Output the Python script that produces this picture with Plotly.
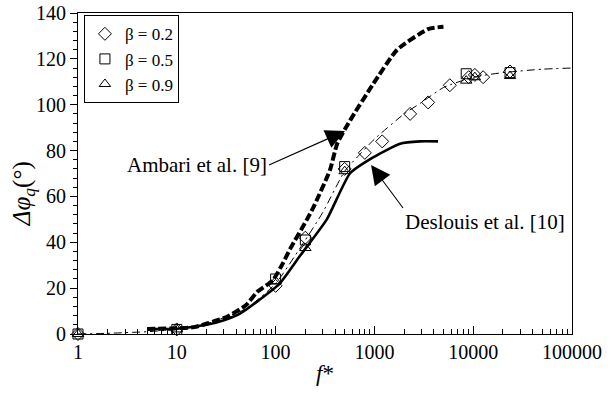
import numpy as np
import plotly.graph_objects as go

# Correlation of Ambari et al. [9] (thick dashed)
ambari_f = [5, 10, 15, 21, 32, 50, 65, 94, 119, 140, 208, 240, 355, 420, 565, 970, 1700, 3500, 5000]
ambari_v = [2.2, 2.5, 3.0, 4.8, 7.4, 12.5, 18.3, 23.5, 31, 37, 50, 55, 71.5, 83, 93, 109, 124, 133, 134]

# Correlation of Deslouis et al. [10] (thick solid)
deslouis_f = [5, 10, 20, 30, 44, 69, 110, 176, 330, 565, 970, 1820, 2900, 4400]
deslouis_v = [2.2, 2.3, 4.0, 6.0, 9, 15, 22, 34, 50, 70, 77, 83, 84, 84]

# Present model (thin dash-dot)
model_f = [1, 2, 5, 10, 20, 50, 100, 200, 300, 500, 700, 1000, 2000, 3000, 5000, 10000, 20000, 50000, 100000]
model_v = [0, 0.3, 1.0, 2.0, 4.5, 11, 22, 41, 53, 71, 78, 85, 96, 101, 107.5, 112, 114, 115.5, 116]

# Measurements for three values of beta
b02_f = [1, 10, 100, 200, 500, 800, 1200, 2300, 3500, 5800, 9000, 10400, 12600, 23600]
b02_v = [0, 2, 21, 42, 72, 79, 84, 96, 101, 108.5, 112, 113, 112, 114.5]
b05_f = [1, 10, 100, 200, 500, 8500, 23600]
b05_v = [0, 2, 24, 41, 73, 113.5, 114]
b09_f = [1, 10, 100, 200, 500, 8500, 10400, 23600]
b09_v = [0, 2, 23, 37.5, 71, 110.5, 112, 112.5]

FONT = "Times New Roman, Times, Liberation Serif, serif"

fig = go.Figure()

fig.add_trace(go.Scatter(x=model_f, y=model_v, mode="lines", showlegend=False,
                         line=dict(color="black", width=1, dash="8px,4px,2px,4px",
                                   shape="spline", smoothing=0.5)))
fig.add_trace(go.Scatter(x=deslouis_f, y=deslouis_v, mode="lines", showlegend=False,
                         line=dict(color="black", width=2.6, shape="spline", smoothing=0.5)))
fig.add_trace(go.Scatter(x=ambari_f, y=ambari_v, mode="lines", showlegend=False,
                         line=dict(color="black", width=4, dash="8px,3px",
                                   shape="spline", smoothing=0.5)))

for f, v, sym, name in [(b02_f, b02_v, "diamond-open", "β = 0.2"),
                        (b05_f, b05_v, "square-open", "β = 0.5"),
                        (b09_f, b09_v, "triangle-up-open", "β = 0.9")]:
    fig.add_trace(go.Scatter(x=f, y=v, mode="markers", name=name, cliponaxis=False,
                             marker=dict(symbol=sym, size=10, color="black",
                                         line=dict(color="black", width=1))))

# Labelled arrows pointing at the two correlations
fig.add_annotation(x=np.log10(504), y=88.5, xref="x", yref="y",
                   text="Ambari et al. [9]", xanchor="right", yanchor="middle",
                   showarrow=True, arrowhead=2, arrowsize=3.5, arrowwidth=1.1,
                   arrowcolor="black", ax=-76, ay=34, standoff=0, startstandoff=0,
                   font=dict(family=FONT, size=21, color="black"))
fig.add_annotation(x=np.log10(925), y=73.7, xref="x", yref="y",
                   text="Deslouis et al. [10]", xanchor="left", yanchor="top",
                   showarrow=True, arrowhead=2, arrowsize=3.5, arrowwidth=1.1,
                   arrowcolor="black", ax=32, ay=43, standoff=0, startstandoff=0,
                   font=dict(family=FONT, size=21, color="black"))

# Vertical axis title
fig.add_annotation(x=-0.111, y=0.436, xref="paper", yref="paper",
                   xanchor="center", yanchor="middle", textangle=-90,
                   text="<i>Δφ</i><sub><i>q</i></sub>(°)", showarrow=False,
                   font=dict(family=FONT, size=25, color="black"))

fig.update_xaxes(type="log", range=[0, 5], tickvals=[1, 10, 100, 1000, 10000, 100000],
                 ticktext=["1", "10", "100", "1000", "10000", "100000"],
                 ticks="inside", ticklen=8, tickwidth=1, tickcolor="black",
                 minor=dict(ticks="inside", ticklen=5, tickwidth=1, tickcolor="black",
                            tickvals=[m * 10 ** e for e in range(5) for m in range(2, 10)]),
                 showline=True, linecolor="black", linewidth=1.2, mirror=True,
                 showgrid=False, zeroline=False, automargin=False,
                 tickfont=dict(family=FONT, size=20, color="black"),
                 title=dict(text="<i>f</i>*", standoff=2,
                            font=dict(family=FONT, size=23, color="black")))
fig.update_yaxes(range=[0, 140], dtick=20, ticks="outside", ticklen=7, tickwidth=1,
                 tickcolor="black",
                 minor=dict(ticks="outside", ticklen=4, tickwidth=1, tickcolor="black", dtick=4),
                 showline=True, linecolor="black", linewidth=1.2, mirror=True,
                 showgrid=False, zeroline=False, automargin=False,
                 tickfont=dict(family=FONT, size=20, color="black"))

fig.update_layout(
    width=611, height=399,
    margin=dict(l=78, r=39, t=13, b=65),
    paper_bgcolor="white", plot_bgcolor="white",
    legend=dict(x=0.012, y=0.993, xanchor="left", yanchor="top",
                bordercolor="black", borderwidth=1, bgcolor="white",
                font=dict(family=FONT, size=17, color="black"),
                itemwidth=30, tracegroupgap=0),
    font=dict(family=FONT, color="black"),
)

fig.write_html("out.html")
